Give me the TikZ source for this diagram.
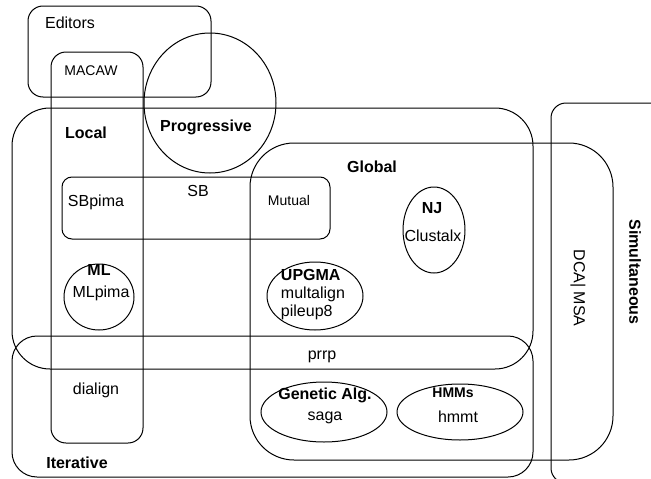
\documentclass[tikz,border=0pt]{standalone}
\usepackage{fontspec}
\setmainfont{Liberation Sans}
\usepackage{tikz}

\tikzset{
  region/.style={draw,line width=1pt},
  lbl/.style={inner sep=0pt,font=\fontsize{16}{18}\selectfont},
  hdr/.style={lbl,font=\fontsize{16}{18}\selectfont\bfseries},
  small/.style={inner sep=0pt,font=\fontsize{14}{16}\selectfont},
  smallhdr/.style={small,font=\fontsize{14}{16}\selectfont\bfseries}
}

\begin{document}
\begin{tikzpicture}[x=1pt,y=-1pt]
\useasboundingbox (0,0) rectangle (651,479);
\clip (0,0) rectangle (651,479);

\draw[region,rounded corners=15pt] (28,6) rectangle (211,97);
\draw[region,rounded corners=15pt] (51,52) rectangle (143,443);
\draw[region] (210,103) ellipse [x radius=66,y radius=70];
\draw[region,rounded corners=38pt] (12,108) rectangle (533,369);
\draw[region,rounded corners=44pt] (250,143) rectangle (613,460);
\draw[region,rounded corners=10pt] (62,177) rectangle (330,239);
\draw[region,rounded corners=25pt] (12,336) rectangle (533,477);
\draw[region,rounded corners=15pt] (551,103) rectangle (700,483);

\draw[region] (99,297) ellipse [x radius=35,y radius=33];
\draw[region] (434,230) ellipse [x radius=31,y radius=43];
\draw[region] (315,296) ellipse [x radius=48,y radius=34];
\draw[region] (324,412) ellipse [x radius=63,y radius=30];
\draw[region] (460,412) ellipse [x radius=63,y radius=28];

\node[lbl](editors) at (70,23) {Editors};
\node[small](macaw) at (91,71) {MACAW};
\node[hdr](local) at (86,133) {Local};
\node[hdr](progressive) at (206,127) {Progressive};
\node[hdr](global) at (372,167) {Global};
\node[lbl](sbpima) at (96,202) {SBpima};
\node[lbl](sb) at (198,191) {SB};
\node[small](mutual) at (289,200) {Mutual};
\node[hdr](nj) at (432,208) {NJ};
\node[lbl](clustalx) at (433,236) {Clustalx};
\node[hdr](ml) at (99,270) {ML};
\node[lbl](mlpima) at (101,293) {MLpima};
\node[lbl,align=left](upgma) at (313,295) {\textbf{UPGMA}\\multalign\\pileup8};
\node[lbl](prrp) at (322,357) {prrp};
\node[lbl](dialign) at (96,390) {dialign};
\node[hdr](genetic) at (325,395) {Genetic Alg.};
\node[lbl](saga) at (325,418) {saga};
\node[smallhdr](hmms) at (453,393) {HMMs};
\node[lbl](hmmt) at (458,417) {hmmt};
\node[lbl,rotate=-90](dca) at (578,288) {DCA| MSA};
\node[hdr,rotate=-90](simultaneous) at (635,272) {Simultaneous};
\node[hdr](iterative) at (77,463) {Iterative};
\end{tikzpicture}
\end{document}
